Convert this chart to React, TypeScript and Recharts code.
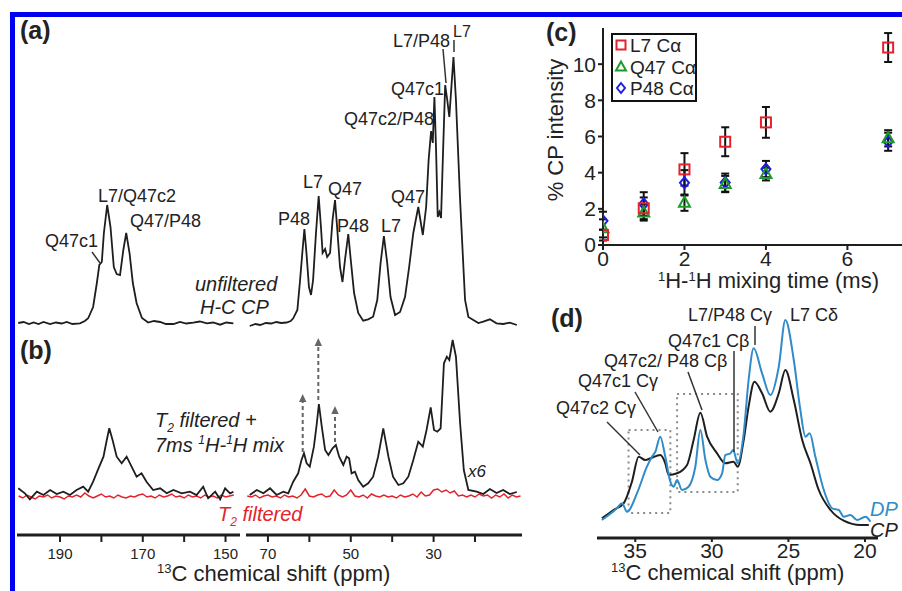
import React from 'react';
import {
  LineChart, Line, XAxis, YAxis, ScatterChart, Scatter, ErrorBar, Legend, ReferenceArea,
} from 'recharts';

const FONT = '"Liberation Sans", Arial, Helvetica, sans-serif';
const INK = '#1e1e1e';
const RED = '#e3222c';
const GREEN = '#1e9a2c';
const BLUE = '#1d1de0';
const DPBLUE = '#2f8cc8';

// ---------- Panels (a)/(b): 13C spectra, intensity in arbitrary units ----------
const carbonylTicks = [150, 160, 170, 180, 190];
const carbonylTickLabels = [150, 170, 190];
const aliphaticTicks = [20, 30, 40, 50, 60, 70];
const aliphaticTickLabels = [30, 50, 70];

// (a) unfiltered H-C CP, carbonyl region
const aCarbonylPpm = [200.1, 198.8, 197.5, 196.4, 195.2, 194.0, 192.4, 191.0, 189.6, 188.4, 187.0, 185.2, 184.0, 183.2, 182.0, 181.1, 180.5, 179.9, 179.4, 178.6, 177.8, 177.0, 176.3, 175.5, 174.7, 174.0, 173.2, 172.4, 171.5, 170.2, 168.7, 167.3, 165.8, 164.4, 162.6, 161.0, 159.5, 157.8, 156.2, 154.5, 153.0, 151.3, 149.8, 148.1];
const aCarbonylInt = [0, 1, -1, 0.5, -1, 1, -1, 0.5, -0.5, 1, -1, -0.3, 2, 4.7, 16, 40, 58, 61, 90, 118, 96, 56, 49, 48, 73, 90, 70, 40, 20, 5, 0.5, 2, 1, -1, -1, 1, -0.5, 0.3, 1.5, -0.3, 0.5, -1.7, 0.5, -0.3];

// (a) unfiltered H-C CP, aliphatic region
const aAliphaticPpm = [74.4, 73.0, 71.9, 70.5, 69.2, 68.0, 66.8, 65.5, 64.5, 63.9, 62.9, 62.3, 61.7, 61.2, 60.7, 60.1, 59.6, 59.1, 58.4, 57.75, 57.2, 56.8, 56.2, 55.7, 55.0, 54.4, 53.8, 53.3, 52.6, 52.0, 51.4, 50.6, 50.0, 49.2, 48.2, 47.0, 45.8, 44.6, 43.6, 42.8, 42.0, 41.2, 40.4, 39.3, 38.1, 36.9, 35.9, 34.9, 33.7, 32.6, 31.8, 31.2, 30.6, 30.2, 29.8, 29.4, 29.0, 28.6, 28.2, 27.7, 27.2, 26.7, 26.2, 25.7, 25.2, 24.6, 23.6, 22.8, 22.4, 21.6, 20.4, 19.2, 18.0, 16.4, 14.8, 13.2, 11.6, 9.9];
const aAliphaticInt = [-3, -1, -2, 0, -0.5, 1, 0, 0.5, 2, 4.7, 13, 40, 70, 94, 70, 36, 28, 43, 90, 127, 96, 70, 74, 66, 70, 103, 123, 96, 56, 41, 63, 89, 63, 30, 10, 2.3, 3.7, 6.3, 23, 60, 87, 60, 26, 8, 11, 26, 56, 90, 116, 88, 116, 163, 192, 180, 226, 173, 106, 111, 105, 173, 238, 223, 206, 236, 266, 223, 123, 56, 23, 6, 3, 0, 1.3, 3.7, -0.3, -1, 0.3, -2];

// (b) T2 filtered + 7 ms 1H-1H mix (x6), carbonyl region
const bCarbonylPpm = [200.1, 198.5, 197.3, 195.6, 194.0, 192.4, 190.8, 189.2, 187.6, 186.0, 184.4, 183.2, 182.0, 180.7, 179.5, 178.7, 178.1, 177.3, 176.3, 175.1, 173.9, 172.7, 171.5, 170.3, 169.1, 167.5, 165.8, 164.2, 162.6, 160.6, 158.6, 157.0, 155.4, 154.2, 152.5, 151.3, 150.1, 148.9, 148.1];
const bCarbonylInt = [4.7, -0.3, -6.3, 1.3, -2, 3, -1, 1.3, -2, 3, 6.3, 1.3, 11.3, 24.7, 36.3, 53, 64.7, 53, 36.3, 29.7, 36.3, 26.3, 16.3, 19.7, 11.3, 3, 4.7, -0.3, 3, -0.3, 1.3, -2, 6.3, -5.3, 1.3, -6.3, 4.7, -0.3, 1.3];

// (b) aliphatic region
const bAliphaticPpm = [74.4, 72.7, 71.1, 69.5, 67.9, 66.3, 65.1, 63.9, 62.7, 61.9, 61.3, 60.65, 59.9, 58.9, 58.2, 57.7, 57.0, 56.2, 55.4, 54.4, 53.6, 52.8, 51.8, 51.0, 50.4, 49.8, 49.0, 48.2, 47.0, 45.8, 44.6, 43.4, 42.15, 40.9, 39.8, 38.5, 37.3, 36.1, 34.9, 33.7, 32.6, 31.7, 30.7, 29.9, 29.1, 28.3, 27.5, 26.8, 26.2, 25.4, 24.6, 23.6, 22.7, 21.6, 19.6, 18.0, 16.4, 14.8, 13.2, 11.6, 9.9];
const bAliphaticInt = [-2, 3, -0.3, 4.7, -2, 1.3, -0.3, 11.3, 19.7, 33, 39.7, 29.7, 26.3, 46.3, 69.7, 89, 66.3, 43, 38, 44.7, 48, 36.3, 28, 36.3, 34.7, 19.7, 21.3, 13, 6.3, 9.7, 16.3, 36.3, 64.7, 36.3, 16.3, 8, 9.7, 16.3, 33, 51.3, 46.3, 63, 85.7, 63, 61.3, 64.7, 129.7, 136.3, 133, 153, 136.3, 69.7, 23, 3, 1.3, -1, 4, 0, 3, -1, 1];

// (b) T2 filtered only (red)
const t2CarbonylPpm = [200, 199, 198, 197, 196, 195, 194, 193, 192, 191, 190, 189, 188, 187, 186, 185, 184, 183, 182, 181, 180, 179, 178, 177, 176, 175, 174, 173, 172, 171, 170, 169, 168, 167, 166, 165, 164, 163, 162, 161, 160, 159, 158, 157, 156, 155, 154, 153, 152, 151, 150, 149, 148];
const t2CarbonylInt = [-3, -5, -2, -4, -6, -3, -4, -2, -5, -3, -4, -6, -3, -4, -2, -4, 0, -3, -5, -3, -1, -4, -3, -5, -2, -4, -5, -3, -4, -2, -1, -4, -3, -5, -2, -4, -3, -1, -4, -3, -5, -2, -4, -3, -5, -2, -4, -3, -5, -2, -4, -3, -2];
const t2AliphaticPpm = [75, 74, 73, 72, 71, 70, 69, 68, 67, 66, 65, 64, 63, 62, 61, 60, 59, 58, 57, 56, 55, 54, 53, 52, 51, 50, 49, 48, 47, 46, 45, 44, 43, 42, 41, 40, 39, 38, 37, 36, 35, 34, 33, 32, 31, 30, 29, 28, 27, 26, 25, 24, 23, 22, 21, 20, 19, 18, 17, 16, 15, 14, 13, 12, 11, 10, 9];
const t2AliphaticInt = [-3, -4, -2, -5, -3, -2, -4, -3, -5, -2, -4, -3, -5, -2, 4, -3, -4, -2, -1, -4, -3, 3, -2, -4, -2, 3, -3, -4, -2, -5, -1, -3, -4, -2, -4, -3, -5, -2, -4, -3, -1, -4, 1, -3, -2, 3, 4, 1, 3, 0, 2, -3, -2, -4, -2, -4, -1, -3, -2, -5, -2, -4, -1, -5, -2, -4, -3];

// ---------- Panel (c): CP intensity vs 1H-1H mixing time ----------
const mixTimes = [0, 1, 2, 3, 4, 7];
const xTicksC = [0, 2, 4, 6];
const yTicksC = [0, 2, 4, 6, 8, 10];
const l7Ca = [0.55, 2.03, 4.18, 5.71, 6.78, 10.92];
const l7CaErr = [0.3, 0.6, 0.9, 0.8, 0.85, 0.8];
const q47Ca = [0.92, 1.8, 2.34, 3.37, 3.92, 5.9];
const q47CaErr = [0.5, 0.45, 0.45, 0.45, 0.35, 0.45];
const p48Ca = [1.34, 2.27, 3.44, 3.45, 4.2, 5.71];
const p48CaErr = [0.5, 0.65, 0.7, 0.5, 0.45, 0.5];

// ---------- Panel (d): CP vs DP aliphatic spectra ----------
const dTicks = [20, 25, 30, 35];
const cpPpm = [37.18, 36.42, 35.76, 35.22, 34.78, 34.35, 34.0, 33.37, 33.04, 32.82, 32.27, 31.62, 31.19, 30.75, 30.31, 29.66, 29.12, 28.58, 28.31, 27.92, 27.6, 27.22, 26.72, 26.18, 25.63, 25.2, 24.65, 24.1, 23.56, 23.02, 22.25, 21.39, 20.29, 19.75];
const cpInt = [19.7, 28, 34.7, 56.3, 81.3, 78, 79.7, 83, 74.7, 63, 64.7, 73, 98, 125.3, 101.3, 84.7, 74.7, 76.3, 71.3, 98, 131.3, 156.3, 144.7, 126.3, 144.7, 168, 138, 98, 74.7, 48, 28, 17.3, 13, 13];
const dpPpm = [37.18, 36.2, 35.87, 35.54, 34.89, 34.24, 33.91, 33.69, 33.37, 33.04, 32.71, 32.5, 32.27, 31.95, 31.52, 31.08, 30.75, 30.42, 30.1, 29.66, 29.33, 29.12, 28.79, 28.61, 28.31, 27.92, 27.6, 27.27, 26.72, 26.18, 25.63, 25.2, 24.65, 24.22, 23.89, 23.61, 23.24, 22.69, 22.14, 21.71, 21.39, 20.95, 20.51, 19.97, 19.64];
const dpInt = [18, 29.7, 34.7, 26.3, 44.7, 71.3, 81.3, 86.3, 101.3, 81.3, 56.3, 51.3, 58, 48, 51.3, 71.3, 108, 78, 61.3, 58, 64.7, 83, 84.7, 88, 74.7, 104.7, 158, 189.7, 164.7, 143, 171.3, 218, 178, 128, 101.3, 104.7, 81.3, 48, 29.7, 28, 21.3, 23, 18, 21.3, 16.3];
// dotted highlight boxes: [ppm from, ppm to, intensity low, intensity high]
const boxGamma = [35.44, 32.71, 25, 108];
const boxBeta = [32.27, 28.31, 46, 144];

const zip = (ppm: number[], val: number[]) => ppm.map((p, i) => ({ ppm: p, v: val[i] }));
const zipC = (v: number[], e: number[]) => mixTimes.map((t, i) => ({ t, v: v[i], e: e[i] }));

const lineCommon = { dot: false, isAnimationActive: false, type: 'linear' as const, activeDot: false };

function Segment(props: {
  left: number; width: number; domain: [number, number]; ticks: number[]; labels: number[];
  a: any[]; b: any[]; red: any[];
}) {
  const { left, width, domain, ticks, labels, a, b, red } = props;
  return (
    <div style={{ position: 'absolute', left, top: 17, width, height: 558 }}>
      <LineChart width={width} height={558} margin={{ top: 0, right: 0, bottom: 0, left: 0 }}>
        <XAxis
          dataKey="ppm" type="number" domain={domain} reversed ticks={ticks} interval={0}
          allowDataOverflow height={40} tickSize={7} tickMargin={6}
          tickFormatter={(v: number) => (labels.includes(v) ? String(v) : '')}
          axisLine={{ stroke: INK, strokeWidth: 3 }} tickLine={{ stroke: INK, strokeWidth: 2 }}
          tick={{ fill: '#222', fontSize: 15, fontFamily: FONT }}
        />
        <YAxis yAxisId="a" hide type="number" domain={[-212, 306]} />
        <YAxis yAxisId="b" hide type="number" domain={[-42, 476]} />
        <Line yAxisId="b" data={red} dataKey="v" stroke={RED} strokeWidth={1.5} {...lineCommon} />
        <Line yAxisId="b" data={b} dataKey="v" stroke={INK} strokeWidth={1.8} {...lineCommon} />
        <Line yAxisId="a" data={a} dataKey="v" stroke={INK} strokeWidth={1.8} {...lineCommon} />
      </LineChart>
    </div>
  );
}

const squareShape = (p: any) => (
  <rect x={p.cx - 5} y={p.cy - 5} width={10} height={10} fill="none" stroke={RED} strokeWidth={2} />
);
const triangleShape = (p: any) => (
  <polygon points={`${p.cx},${p.cy - 6} ${p.cx - 5.5},${p.cy + 4} ${p.cx + 5.5},${p.cy + 4}`} fill="none" stroke={GREEN} strokeWidth={2} />
);
const diamondShape = (p: any) => (
  <polygon points={`${p.cx},${p.cy - 5.5} ${p.cx + 4.5},${p.cy} ${p.cx},${p.cy + 5.5} ${p.cx - 4.5},${p.cy}`} fill="none" stroke={BLUE} strokeWidth={2} />
);

const legendItems = [
  { name: 'L7 Cα', color: RED, kind: 'square' },
  { name: 'Q47 Cα', color: GREEN, kind: 'triangle' },
  { name: 'P48 Cα', color: BLUE, kind: 'diamond' },
];

const renderLegend = () => (
  <svg width={86} height={69} style={{ display: 'block' }}>
    <rect x={1} y={1} width={84} height={67} fill="#fff" stroke="#111" strokeWidth={2} />
    {legendItems.map((it, i) => {
      const cy = 12 + i * 21.5;
      const cx = 10;
      let marker;
      if (it.kind === 'square') marker = <rect x={cx - 4.5} y={cy - 4.5} width={9} height={9} fill="none" stroke={it.color} strokeWidth={2} />;
      else if (it.kind === 'triangle') marker = <polygon points={`${cx},${cy - 5} ${cx - 5},${cy + 4} ${cx + 5},${cy + 4}`} fill="none" stroke={it.color} strokeWidth={2} />;
      else marker = <polygon points={`${cx},${cy - 5} ${cx + 4},${cy} ${cx},${cy + 5} ${cx - 4},${cy}`} fill="none" stroke={it.color} strokeWidth={2} />;
      return (
        <g key={it.name}>
          {marker}
          <text x={19} y={cy + 7} fontSize={19} fontFamily={FONT} fill="#222">{it.name}</text>
        </g>
      );
    })}
  </svg>
);

function Overlay() {
  const t = { fontFamily: FONT, fill: '#222' } as any;
  const lead = { stroke: '#333', strokeWidth: 1.5 } as any;
  const arrow = { stroke: '#666', strokeWidth: 2, strokeDasharray: '4 3' } as any;
  return (
    <svg width={902} height={591} style={{ position: 'absolute', left: 0, top: 0, pointerEvents: 'none' }}>
      <rect x={10} y={12} width={892} height={5} fill="#0000f0" />
      <rect x={10} y={12} width={5} height={579} fill="#0000f0" />

      {/* panel letters */}
      <text x={20} y={39} fontSize={25} fontWeight="bold" {...t}>(a)</text>
      <text x={20} y={359} fontSize={25} fontWeight="bold" {...t}>(b)</text>
      <text x={546} y={41} fontSize={25} fontWeight="bold" {...t}>(c)</text>
      <text x={551} y={327} fontSize={25} fontWeight="bold" {...t}>(d)</text>

      {/* panel (a) peak labels */}
      <g fontSize={18} {...t}>
        <text x={393} y={47}>L7/P48</text>
        <text x={453} y={37} fontSize={16}>L7</text>
        <text x={391} y={95}>Q47c1</text>
        <text x={344} y={125}>Q47c2/P48</text>
        <text x={391} y={203}>Q47</text>
        <text x={381} y={232}>L7</text>
        <text x={337} y={232}>P48</text>
        <text x={328} y={195}>Q47</text>
        <text x={303} y={188}>L7</text>
        <text x={278} y={225}>P48</text>
        <text x={98} y={202}>L7/Q47c2</text>
        <text x={130} y={227}>Q47/P48</text>
        <text x={45} y={247}>Q47c1</text>
      </g>
      <line x1={92} y1={252} x2={100} y2={263} {...lead} />
      <line x1={443} y1={49} x2={446} y2={83} {...lead} />
      <line x1={454} y1={40} x2={454} y2={52} {...lead} />
      <text x={195} y={291} fontSize={20} fontStyle="italic" {...t}>unfiltered</text>
      <text x={200} y={314} fontSize={20} fontStyle="italic" {...t}>H-C CP</text>

      {/* panel (b) */}
      <text x={155} y={427} fontSize={20} fontStyle="italic" {...t}>
        T<tspan fontSize={12} dy={5}>2</tspan><tspan dy={-5}> filtered +</tspan>
      </text>
      <text x={155} y={452} fontSize={20} fontStyle="italic" {...t}>
        7ms  <tspan fontSize={12} dy={-8}>1</tspan><tspan dy={8}>H-</tspan><tspan fontSize={12} dy={-8}>1</tspan><tspan dy={8}>H mix</tspan>
      </text>
      <text x={218} y={521} fontSize={20} fontStyle="italic" fontFamily={FONT} fill={RED}>
        T<tspan fontSize={12} dy={5}>2</tspan><tspan dy={-5}> filtered</tspan>
      </text>
      <text x={468} y={477} fontSize={17} fontStyle="italic" {...t}>x6</text>
      <line x1={302.7} y1={452} x2={302.7} y2={402} {...arrow} />
      <polygon points="302.7,394 299,402 306.4,402" fill="#666" />
      <line x1={318.3} y1={400} x2={318.3} y2={346} {...arrow} />
      <polygon points="318.3,338 314.6,346 322,346" fill="#666" />
      <line x1={335} y1={442} x2={335} y2={414} {...arrow} />
      <polygon points="335,406 331.3,414 338.7,414" fill="#666" />

      <text x={157} y={581} fontSize={22} {...t}>
        <tspan fontSize={13} dy={-8}>13</tspan><tspan dy={8}>C chemical shift (ppm)</tspan>
      </text>

      {/* panel (c) axis titles */}
      <text transform="translate(563,130) rotate(-90)" textAnchor="middle" fontSize={22} {...t}>% CP intensity</text>
      <text x={658} y={288} fontSize={22} {...t}>
        <tspan fontSize={13} dy={-7}>1</tspan><tspan dy={7}>H-</tspan><tspan fontSize={13} dy={-7}>1</tspan><tspan dy={7}>H mixing time (ms)</tspan>
      </text>

      {/* panel (d) annotations */}
      <g fontSize={18} {...t}>
        <text x={688} y={321}>L7/P48 Cγ</text>
        <text x={790} y={321}>L7 Cδ</text>
        <text x={668} y={347}>Q47c1 Cβ</text>
        <text x={604} y={367}>Q47c2/ P48 Cβ</text>
        <text x={578} y={387}>Q47c1 Cγ</text>
        <text x={556} y={414}>Q47c2 Cγ</text>
      </g>
      <line x1={755} y1={326} x2={755} y2={345} {...lead} />
      <line x1={734} y1={351} x2={734} y2={452} {...lead} />
      <line x1={688} y1={372} x2={702} y2={410} {...lead} />
      <line x1={635} y1={392} x2={658} y2={432} {...lead} />
      <line x1={607} y1={422} x2={640} y2={455} {...lead} />
      <text x={870} y={516} fontSize={20} fontStyle="italic" fontFamily={FONT} fill={DPBLUE}>DP</text>
      <text x={870} y={537} fontSize={20} fontStyle="italic" {...t}>CP</text>
      <text x={611} y={580} fontSize={22} {...t}>
        <tspan fontSize={13} dy={-8}>13</tspan><tspan dy={8}>C chemical shift (ppm)</tspan>
      </text>
    </svg>
  );
}

export default function App() {
  return (
    <div style={{ position: 'absolute', left: 0, top: 0, width: 902, height: 591, background: '#fff', overflow: 'hidden', fontFamily: FONT }}>
      <Segment
        left={17} width={223} domain={[146.5, 200.4]} ticks={carbonylTicks} labels={carbonylTickLabels}
        a={zip(aCarbonylPpm, aCarbonylInt)} b={zip(bCarbonylPpm, bCarbonylInt)} red={zip(t2CarbonylPpm, t2CarbonylInt)}
      />
      <Segment
        left={246} width={276} domain={[8.65, 75.3]} ticks={aliphaticTicks} labels={aliphaticTickLabels}
        a={zip(aAliphaticPpm, aAliphaticInt)} b={zip(bAliphaticPpm, bAliphaticInt)} red={zip(t2AliphaticPpm, t2AliphaticInt)}
      />

      <div style={{ position: 'absolute', left: 563, top: 28, width: 339, height: 257 }}>
        <ScatterChart width={339} height={257} margin={{ top: 0, right: 0, bottom: 0, left: 0 }}>
          <XAxis
            dataKey="t" type="number" domain={[0, 7.34]} ticks={xTicksC} interval={0} allowDataOverflow
            height={40} tickSize={5} tickMargin={1}
            axisLine={{ stroke: INK, strokeWidth: 2 }} tickLine={{ stroke: INK, strokeWidth: 2 }}
            tick={{ fill: '#222', fontSize: 21, fontFamily: FONT }}
          />
          <YAxis
            dataKey="v" type="number" domain={[0, 12]} ticks={yTicksC} interval={0} allowDataOverflow
            width={40} tickSize={5} tickMargin={2}
            axisLine={{ stroke: INK, strokeWidth: 2 }} tickLine={{ stroke: INK, strokeWidth: 2 }}
            tick={{ fill: '#222', fontSize: 21, fontFamily: FONT }}
          />
          <Legend
            layout="vertical" align="center" verticalAlign="middle" content={renderLegend}
            wrapperStyle={{ left: 48, top: 5, width: 86, height: 69 }}
          />
          <Scatter name="P48 Cα" data={zipC(p48Ca, p48CaErr)} shape={diamondShape} isAnimationActive={false}>
            <ErrorBar dataKey="e" direction="y" width={4} stroke="#111" strokeWidth={2} isAnimationActive={false} />
          </Scatter>
          <Scatter name="Q47 Cα" data={zipC(q47Ca, q47CaErr)} shape={triangleShape} isAnimationActive={false}>
            <ErrorBar dataKey="e" direction="y" width={4} stroke="#111" strokeWidth={2} isAnimationActive={false} />
          </Scatter>
          <Scatter name="L7 Cα" data={zipC(l7Ca, l7CaErr)} shape={squareShape} isAnimationActive={false}>
            <ErrorBar dataKey="e" direction="y" width={4} stroke="#111" strokeWidth={2} isAnimationActive={false} />
          </Scatter>
        </ScatterChart>
      </div>

      <div style={{ position: 'absolute', left: 597, top: 300, width: 281, height: 283 }}>
        <LineChart width={281} height={283} margin={{ top: 0, right: 0, bottom: 0, left: 0 }}>
          <XAxis
            dataKey="ppm" type="number" domain={[19.15, 37.5]} reversed ticks={dTicks} interval={0}
            allowDataOverflow height={45} tickSize={4} tickMargin={1}
            axisLine={{ stroke: INK, strokeWidth: 3 }} tickLine={{ stroke: INK, strokeWidth: 2 }}
            tick={{ fill: '#222', fontSize: 21, fontFamily: FONT }}
          />
          <YAxis hide type="number" domain={[0, 238]} />
          <ReferenceArea x1={boxGamma[0]} x2={boxGamma[1]} y1={boxGamma[2]} y2={boxGamma[3]}
            fill="none" fillOpacity={0} stroke="#8a8a8a" strokeWidth={2} strokeDasharray="2 4" ifOverflow="visible" />
          <ReferenceArea x1={boxBeta[0]} x2={boxBeta[1]} y1={boxBeta[2]} y2={boxBeta[3]}
            fill="none" fillOpacity={0} stroke="#8a8a8a" strokeWidth={2} strokeDasharray="2 4" ifOverflow="visible" />
          <Line data={zip(cpPpm, cpInt)} dataKey="v" stroke={INK} strokeWidth={2} dot={false} activeDot={false} type="monotone" isAnimationActive={false} />
          <Line data={zip(dpPpm, dpInt)} dataKey="v" stroke={DPBLUE} strokeWidth={2} dot={false} activeDot={false} type="monotone" isAnimationActive={false} />
        </LineChart>
      </div>

      <Overlay />
    </div>
  );
}
